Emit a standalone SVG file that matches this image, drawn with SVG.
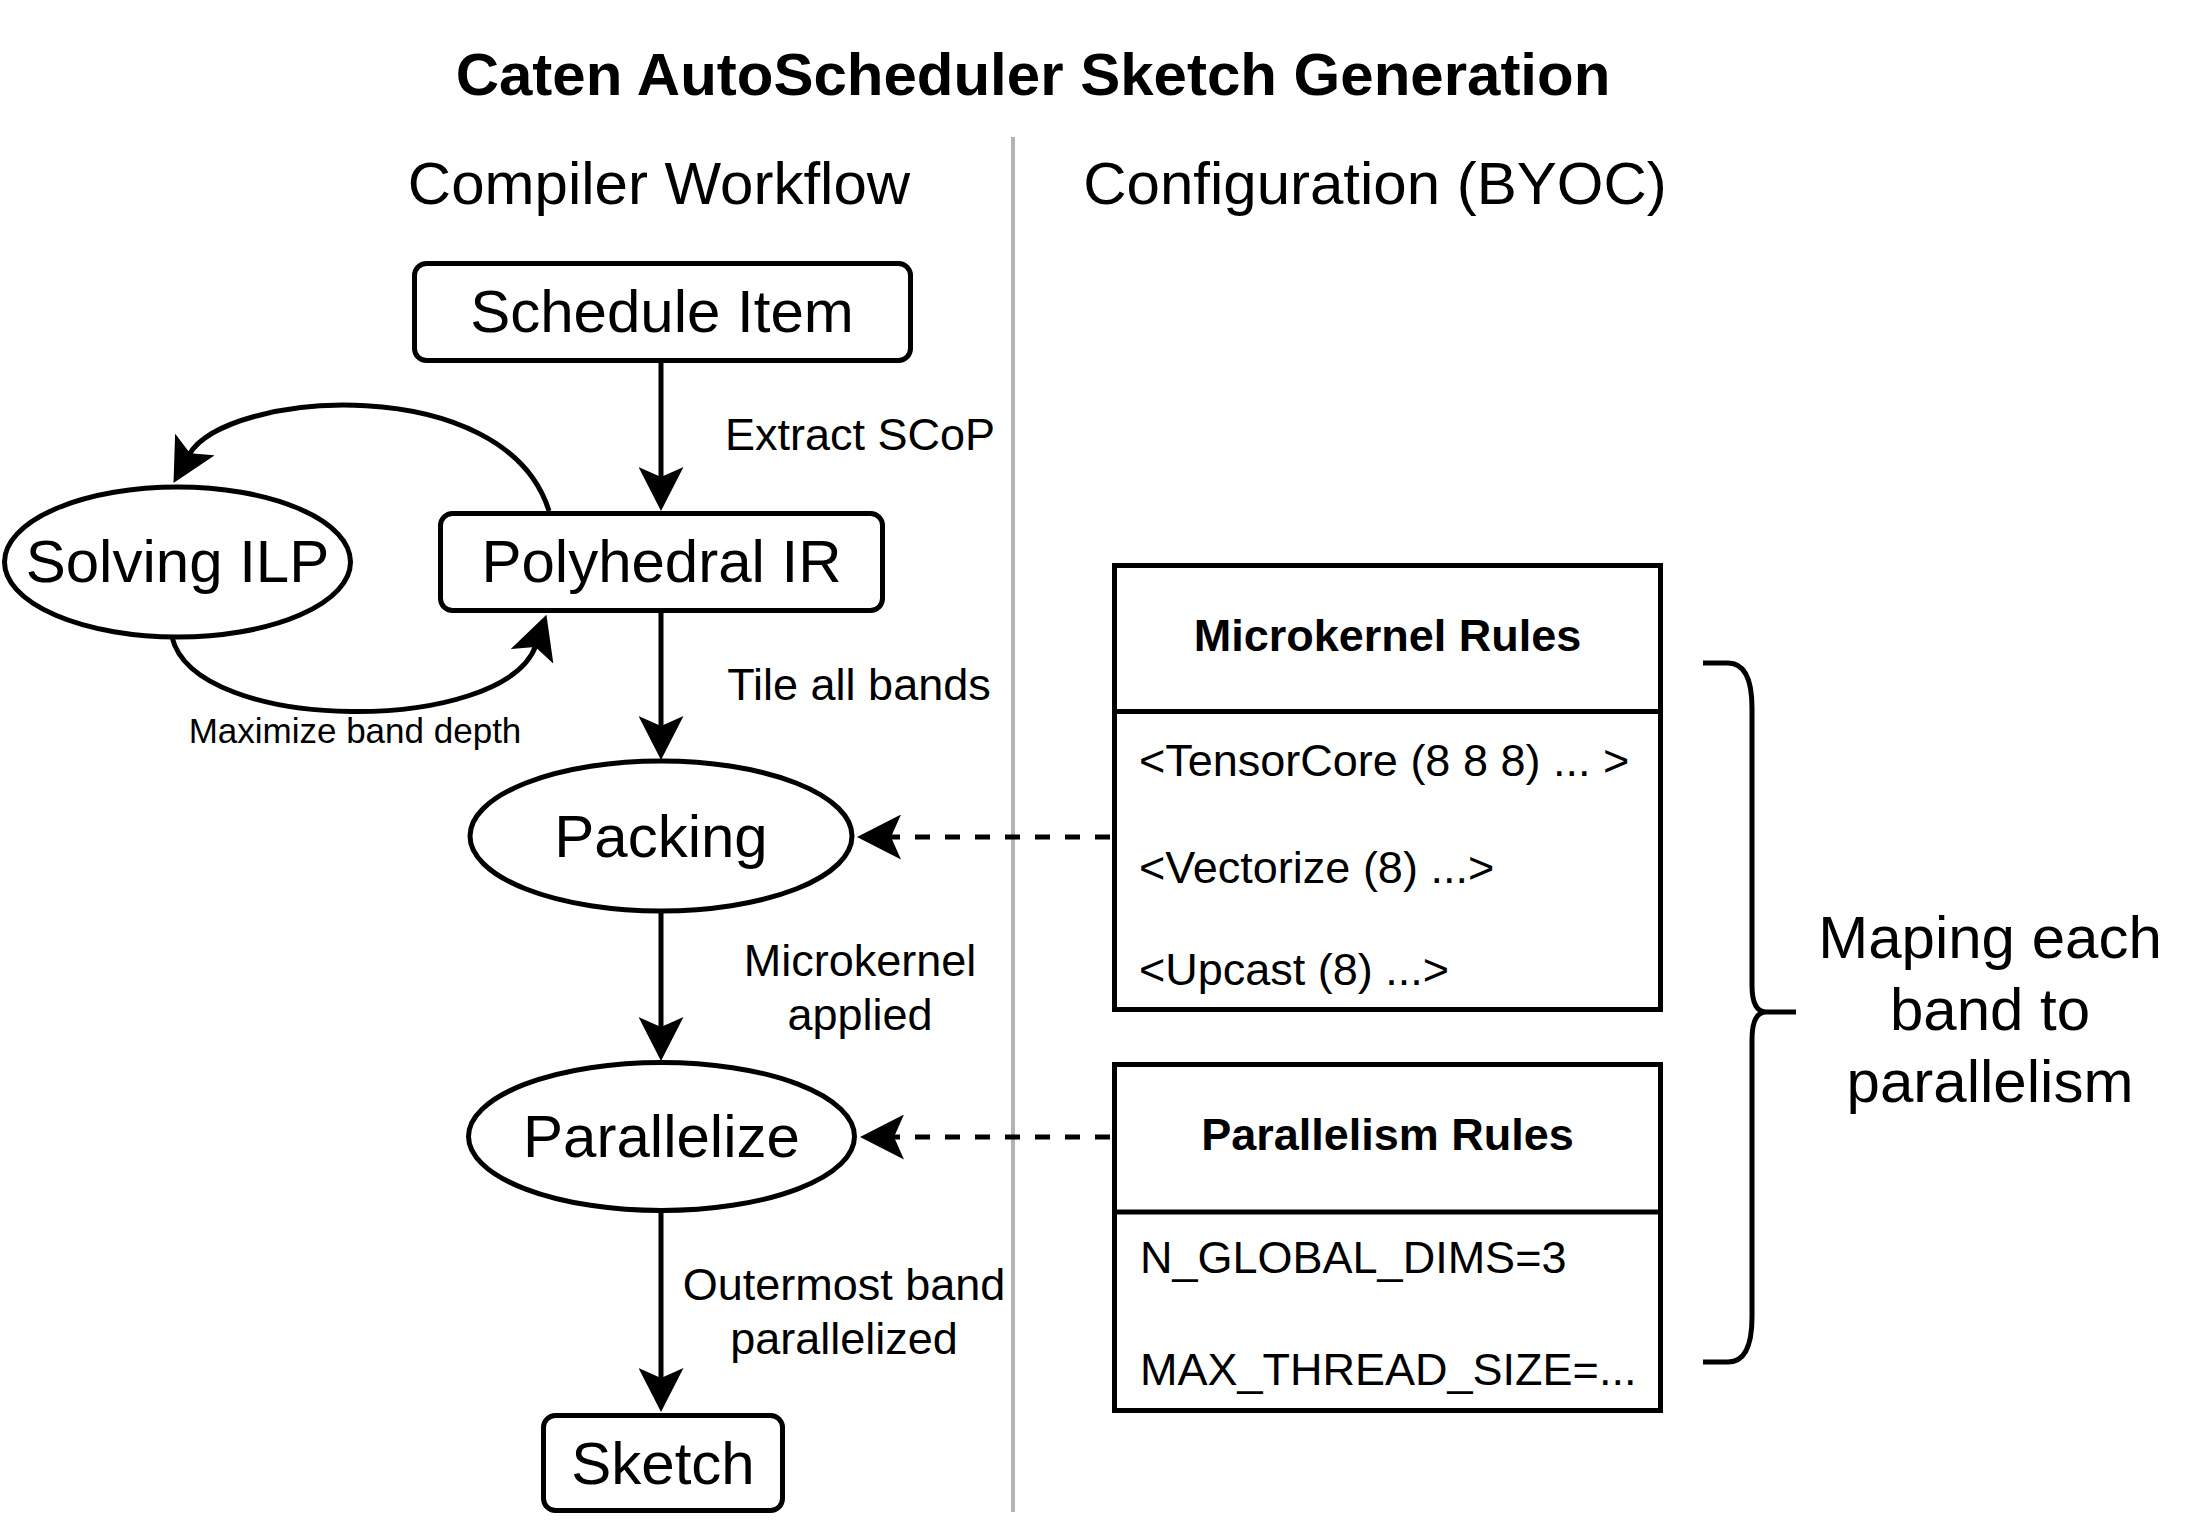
<svg xmlns="http://www.w3.org/2000/svg" width="2185" height="1520" viewBox="0 0 2185 1520">
  <defs>
    <style>
      text { font-family: "Liberation Sans", Arial, Helvetica, sans-serif; fill: #000; }
      .title { font-size: 60px; font-weight: bold; text-anchor: middle; }
      .head { font-size: 60px; text-anchor: middle; }
      .node { font-size: 60px; text-anchor: middle; }
      .elabel { font-size: 45px; text-anchor: middle; }
      .small { font-size: 35px; text-anchor: middle; }
      .thead { font-size: 45px; font-weight: bold; text-anchor: middle; }
      .row { font-size: 45px; }
      .shape { fill: #fff; stroke: #000; stroke-width: 5; }
      .edge { fill: none; stroke: #000; stroke-width: 5; }
      .dash { fill: none; stroke: #000; stroke-width: 5; stroke-dasharray: 15 15; }
      .divider { fill: none; stroke: #B3B3B3; stroke-width: 4; }
    </style>
    <marker id="arrow" markerUnits="userSpaceOnUse" viewBox="0 0 44 45" markerWidth="44" markerHeight="45" refX="12" refY="22.5" orient="auto">
      <path d="M44 22.5 L0 0 L10 22.5 L0 45 Z" fill="#000"/>
    </marker>
  </defs>
  <rect x="0" y="0" width="2185" height="1520" fill="#fff"/>

  <text class="title" x="1033" y="95">Caten AutoScheduler Sketch Generation</text>
  <text class="head" x="659" y="204">Compiler Workflow</text>
  <text class="head" x="1375" y="204">Configuration (BYOC)</text>
  <line class="divider" x1="1013" y1="137" x2="1013" y2="1512"/>

  <g id="connectors">
    <path class="edge" d="M661 363 L661 479" marker-end="url(#arrow)"/>
    <path class="edge" d="M661 613 L661 728" marker-end="url(#arrow)"/>
    <path class="edge" d="M661 913 L661 1029" marker-end="url(#arrow)"/>
    <path class="edge" d="M661 1212 L661 1380" marker-end="url(#arrow)"/>
    <path class="edge" d="M549 511 C505 370 225 390 189 455" marker-end="url(#arrow)"/>
    <path class="edge" d="M172 637 C195 735 505 735 536 645" marker-end="url(#arrow)"/>
    <path class="dash" d="M1110 837 L889 837" marker-end="url(#arrow)"/>
    <path class="dash" d="M1110 1137 L892 1137" marker-end="url(#arrow)"/>
    <text class="elabel" x="860" y="450">Extract SCoP</text>
    <text class="elabel" x="859" y="700">Tile all bands</text>
    <text class="elabel" x="860" y="976">Microkernel</text>
    <text class="elabel" x="860" y="1030">applied</text>
    <text class="elabel" x="844" y="1300">Outermost band</text>
    <text class="elabel" x="844" y="1354">parallelized</text>
    <text class="small" x="355" y="743">Maximize band depth</text>
  </g>

  <g id="schedule-item">
    <rect class="shape" x="414.5" y="263.5" width="496" height="97" rx="12"/>
    <text class="node" x="662" y="332">Schedule Item</text>
  </g>
  <g id="polyhedral-ir">
    <rect class="shape" x="440.5" y="513.5" width="442" height="97" rx="12"/>
    <text class="node" x="661.5" y="582">Polyhedral IR</text>
  </g>
  <g id="solving-ilp">
    <ellipse class="shape" cx="177.5" cy="562" rx="173" ry="75"/>
    <text class="node" x="177.5" y="582">Solving ILP</text>
  </g>
  <g id="packing">
    <ellipse class="shape" cx="661" cy="836" rx="191" ry="75"/>
    <text class="node" x="661" y="857">Packing</text>
  </g>
  <g id="parallelize">
    <ellipse class="shape" cx="661.5" cy="1136.5" rx="193" ry="74"/>
    <text class="node" x="661.5" y="1157">Parallelize</text>
  </g>
  <g id="sketch">
    <rect class="shape" x="543.5" y="1415.5" width="239" height="95" rx="12"/>
    <text class="node" x="663" y="1484">Sketch</text>
  </g>

  <g id="microkernel-rules">
    <rect class="shape" x="1114.5" y="565.5" width="546" height="444"/>
    <line class="edge" x1="1114.5" y1="711.5" x2="1660.5" y2="711.5"/>
    <text class="thead" x="1387.5" y="651">Microkernel Rules</text>
    <text class="row" x="1139" y="776">&lt;TensorCore (8 8 8) ... &gt;</text>
    <text class="row" x="1139" y="883">&lt;Vectorize (8) ...&gt;</text>
    <text class="row" x="1139" y="985">&lt;Upcast (8) ...&gt;</text>
  </g>
  <g id="parallelism-rules">
    <rect class="shape" x="1114.5" y="1064.5" width="546" height="346"/>
    <line class="edge" x1="1114.5" y1="1212" x2="1660.5" y2="1212"/>
    <text class="thead" x="1387.5" y="1150">Parallelism Rules</text>
    <text class="row" x="1140" y="1273">N_GLOBAL_DIMS=3</text>
    <text class="row" x="1140" y="1385">MAX_THREAD_SIZE=...</text>
  </g>

  <g id="brace">
    <path class="edge" d="M1703 663 L1728 663 Q1752 663 1752 708 L1752 985 Q1752 1012 1766 1012 L1796 1012 M1766 1012 Q1752 1012 1752 1040 L1752 1317 Q1752 1362 1728 1362 L1703 1362"/>
  </g>
  <g id="mapping-label">
    <text class="node" x="1990" y="958">Maping each</text>
    <text class="node" x="1990" y="1030">band to</text>
    <text class="node" x="1990" y="1102">parallelism</text>
  </g>
</svg>
